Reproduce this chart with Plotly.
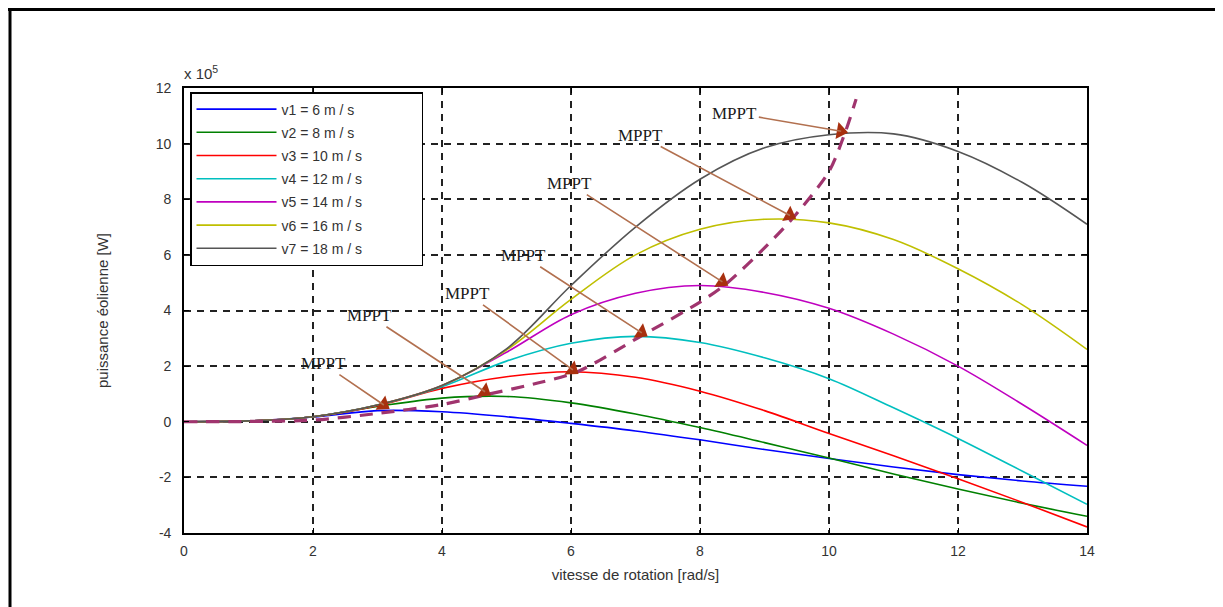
import math
import plotly.graph_objects as go

# ---------------- data (power in units of 1e5 W) -------------
omega = [0, 1, 2, 3, 4, 5, 6, 7, 8, 9, 10, 11, 12, 13, 14]

p_v1 = [0, 0.03, 0.17, 0.40, 0.36, 0.18, -0.06, -0.33, -0.65, -1.00, -1.32, -1.63, -1.90, -2.13, -2.32]
p_v2 = [0, 0.03, 0.18, 0.55, 0.85, 0.91, 0.68, 0.28, -0.21, -0.75, -1.30, -1.88, -2.42, -2.93, -3.40]
p_v3 = [0, 0.03, 0.18, 0.58, 1.20, 1.62, 1.80, 1.60, 1.10, 0.40, -0.42, -1.22, -2.05, -2.90, -3.78]
p_v4 = [0, 0.03, 0.18, 0.60, 1.26, 2.18, 2.82, 3.07, 2.85, 2.30, 1.55, 0.50, -0.60, -1.78, -2.97]
p_v5 = [0, 0.03, 0.18, 0.60, 1.30, 2.50, 3.85, 4.62, 4.90, 4.65, 4.08, 3.15, 2.00, 0.62, -0.85]
p_v6 = [0, 0.03, 0.18, 0.60, 1.30, 2.58, 4.40, 6.00, 6.92, 7.28, 7.15, 6.55, 5.50, 4.20, 2.60]
p_v7 = [0, 0.03, 0.18, 0.60, 1.30, 2.62, 4.90, 7.00, 8.72, 9.85, 10.32, 10.35, 9.72, 8.60, 7.10]

series_names = ["v1 = 6 m / s", "v2 = 8 m / s", "v3 = 10 m / s", "v4 = 12 m / s",
                "v5 = 14 m / s", "v6 = 16 m / s", "v7 = 18 m / s"]
series_values = [p_v1, p_v2, p_v3, p_v4, p_v5, p_v6, p_v7]
series_colors = ["#0000ff", "#008000", "#ff0000", "#00bfbf", "#bf00bf", "#bfbf00", "#555555"]

mppt_x = [0, 1, 2, 3, 4, 4.7, 5.5, 6.1, 7.1, 8.0, 8.4, 9.0, 9.45, 10.0, 10.25, 10.42]
mppt_y = [0, 0.01, 0.06, 0.30, 0.62, 0.98, 1.40, 1.80, 3.10, 4.30, 4.95, 6.25, 7.35, 9.00, 10.40, 11.60]

# MPPT labels: label position and arrow tip
label_x = [2.16, 2.88, 4.40, 5.26, 5.98, 7.07, 8.54]
label_y = [2.09, 3.81, 4.60, 5.97, 8.56, 10.29, 11.10]
tip_x = [3.15, 4.72, 6.08, 7.15, 8.40, 9.45, 10.25]
tip_y = [0.52, 1.00, 1.78, 3.12, 4.95, 7.35, 10.42]

x_ticks = [0, 2, 4, 6, 8, 10, 12, 14]
y_ticks = [-4, -2, 0, 2, 4, 6, 8, 10, 12]

# ---------------- figure ----------------
W, H = 1223, 607
OFF = 8  # page body margin
ML, MR, MT, MB = 184 - OFF, 136 + OFF, 88 - OFF, 74 + OFF
pw, ph = W - ML - MR, H - MT - MB
XR = [0, 14]
YR = [-4, 12]
sx = pw / (XR[1] - XR[0])
sy = ph / (YR[1] - YR[0])

fig = go.Figure()

for name, vals, col in zip(series_names, series_values, series_colors):
    fig.add_trace(go.Scatter(
        x=omega, y=vals, mode="lines", name=name + "\u00a0" * 14, legendgroup=name,
        line=dict(color=col, width=1.6, shape="spline", smoothing=1.0),
    ))

fig.add_trace(go.Scatter(
    x=mppt_x, y=mppt_y, mode="lines", showlegend=False,
    line=dict(color="#a0346e", width=3.2, dash="13px,9px", shape="spline", smoothing=0.8),
))

# arrow heads as rotated triangle markers
head_x, head_y, head_ang = [], [], []
for lx, ly, hx, hy in zip(label_x, label_y, tip_x, tip_y):
    dxp = (hx - lx) * sx          # screen direction, right positive
    dyp = -(hy - ly) * sy         # screen direction, down positive
    L = math.hypot(dxp, dyp)
    ux, uy = dxp / L, dyp / L
    back = 4.5
    head_x.append(hx - ux * back / sx)
    head_y.append(hy + uy * back / sy)
    head_ang.append(math.degrees(math.atan2(ux, -uy)))

fig.add_trace(go.Scatter(
    x=head_x, y=head_y, mode="markers", showlegend=False, hoverinfo="skip",
    marker=dict(symbol="triangle-up", size=15, angle=head_ang, color="#a8300f",
                line=dict(width=0)),
))

annotations = []
for lx, ly, hx, hy in zip(label_x, label_y, tip_x, tip_y):
    annotations.append(dict(
        x=hx, y=hy, xref="x", yref="y", ax=lx, ay=ly, axref="x", ayref="y",
        text="MPPT", showarrow=True, arrowhead=0, arrowwidth=1.6,
        arrowcolor="#b2704f", standoff=4,
        font=dict(family="Liberation Serif", size=17, color="#1a1a1a"),
    ))

annotations.append(dict(
    x=-2 / pw, y=1.0 + 15 / ph, xref="paper", yref="paper", xanchor="left", yanchor="middle",
    text="x 10<sup>5</sup>", showarrow=False,
    font=dict(family="Liberation Sans", size=15, color="#333333"),
))

def px2paper_x(px):
    return (px - OFF - ML) / pw

def px2paper_y(py):
    return (H - MB - (py - OFF)) / ph

shapes = [
    dict(type="line", xref="paper", yref="paper",
         x0=px2paper_x(4), x1=px2paper_x(1230), y0=px2paper_y(9), y1=px2paper_y(9),
         line=dict(color="#000000", width=4)),
    dict(type="line", xref="paper", yref="paper",
         x0=px2paper_x(10), x1=px2paper_x(10), y0=px2paper_y(8), y1=px2paper_y(620),
         line=dict(color="#000000", width=3)),
    dict(type="line", xref="paper", yref="paper",
         x0=px2paper_x(1221), x1=px2paper_x(1221), y0=px2paper_y(8), y1=px2paper_y(620),
         line=dict(color="#777777", width=1.5)),
]

axis_common = dict(
    showgrid=True, gridcolor="#222222", gridwidth=1.7, griddash="7px,6px",
    zeroline=False, showline=True, linecolor="#000000", linewidth=1.6,
    mirror="allticks", ticks="inside", ticklen=5, tickcolor="#000000",
    tickfont=dict(family="Liberation Sans", size=14, color="#333333"),
)

fig.update_layout(
    width=W, height=H,
    margin=dict(l=ML, r=MR, t=MT, b=MB),
    paper_bgcolor="white", plot_bgcolor="white",
    showlegend=True,
    legend=dict(
        x=6 / pw, y=1 - 4 / ph, xanchor="left", yanchor="top",
        bgcolor="white", bordercolor="#000000", borderwidth=1.5,
        font=dict(family="Liberation Sans", size=14, color="#333333"),
        tracegroupgap=2, itemwidth=80,
    ),
    annotations=annotations,
    shapes=shapes,
)

fig.update_xaxes(
    range=XR, tickvals=x_ticks, ticktext=[str(v) for v in x_ticks],
    ticklabelstandoff=4,
    title=dict(text="vitesse de rotation [rad/s]", standoff=12,
               font=dict(family="Liberation Sans", size=15, color="#333333")),
    **axis_common,
)
fig.update_yaxes(
    range=YR, tickvals=y_ticks, ticktext=[str(v) for v in y_ticks],
    ticklabelstandoff=8,
    title=dict(text="puissance éolienne [W]", standoff=44,
               font=dict(family="Liberation Sans", size=15, color="#333333")),
    **axis_common,
)

fig.write_html("out.html")
